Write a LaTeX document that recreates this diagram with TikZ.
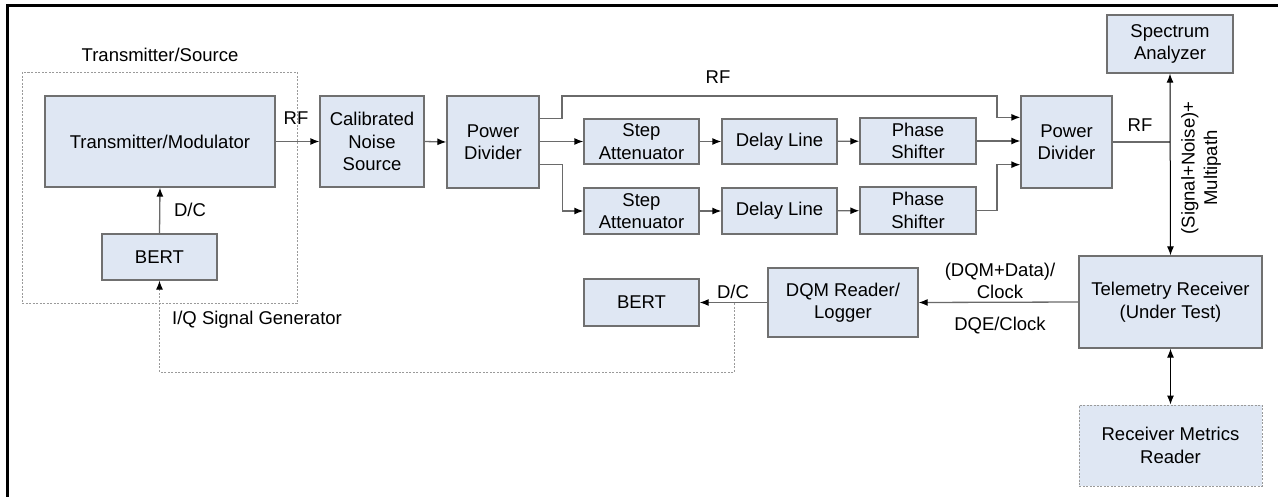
\documentclass[tikz,border=0pt]{standalone}
\usepackage{fontspec}
\setmainfont{Liberation Sans}
\usetikzlibrary{arrows.meta,calc}
\definecolor{boxfill}{HTML}{DFE7F3}
\definecolor{boxline}{HTML}{707070}
\definecolor{wire}{HTML}{6A6A6A}
\definecolor{dotline}{HTML}{9A9A9A}
\tikzset{
  blk/.style={draw=boxline, fill=boxfill, line width=1.3pt, rectangle, align=center, inner sep=0pt},
  dblk/.style={draw=dotline, fill=boxfill, line width=1pt, dash pattern=on 2pt off 1.5pt, rectangle, align=center, inner sep=0pt},
  conn/.style={draw=wire, line width=1.3pt, -{Latex[length=9pt,width=7pt,color=black]}},
  wireonly/.style={draw=wire, line width=1.3pt},
  dconn/.style={draw=dotline, line width=1pt, dash pattern=on 2pt off 1.5pt, -{Latex[length=9pt,width=7pt,color=black]}},
  bconn/.style={draw=black, line width=1pt, {Latex[length=9pt,width=7pt]}-{Latex[length=9pt,width=7pt]}},
  lbl/.style={align=center, inner sep=0pt},
}
\begin{document}
\begin{tikzpicture}[x=1pt,y=-1pt, font=\fontsize{18.5}{22.5}\selectfont]
\useasboundingbox (0,0) rectangle (1278,496);
% outer frame
\draw[line width=3pt, black] (7,500) -- (7,5) -- (1282,5);
% transmitter/source dotted group
\draw[draw=dotline, line width=1pt, dash pattern=on 2pt off 1.5pt] (22,72) rectangle (297,303);
\node[lbl] (tstitle) at (160,55) {Transmitter/Source};
% blocks
\node[blk, minimum width=230pt, minimum height=91pt] (tm) at (160,141.5) {Transmitter/Modulator};
\node[blk, minimum width=115pt, minimum height=46pt] (bert1) at (159.5,257) {BERT};
\node[blk, minimum width=104pt, minimum height=91pt] (cns) at (372,141.5) {Calibrated\\Noise\\Source};
\node[blk, minimum width=92pt, minimum height=92pt] (pd1) at (493,142) {Power\\Divider};
\node[blk, minimum width=115pt, minimum height=45pt] (sa1) at (641.5,141.5) {Step\\Attenuator};
\node[blk, minimum width=115pt, minimum height=46pt] (sa2) at (641.5,211) {Step\\Attenuator};
\node[blk, minimum width=115pt, minimum height=45pt] (dl1) at (779.5,141.5) {Delay Line};
\node[blk, minimum width=115pt, minimum height=46pt] (dl2) at (779.5,211) {Delay Line};
\node[blk, minimum width=116pt, minimum height=46pt] (ps1) at (918,141) {Phase\\Shifter};
\node[blk, minimum width=116pt, minimum height=47pt] (ps2) at (918,210.5) {Phase\\Shifter};
\node[blk, minimum width=91pt, minimum height=92pt] (pd2) at (1066.5,142) {Power\\Divider};
\node[blk, minimum width=126pt, minimum height=58pt] (spec) at (1170,44) {Spectrum\\Analyzer};
\node[blk, minimum width=183pt, minimum height=92pt] (tr) at (1170.5,302) {Telemetry Receiver\\(Under Test)};
\node[blk, minimum width=150pt, minimum height=69pt] (dqm) at (843,302.5) {DQM Reader/\\Logger};
\node[blk, minimum width=115pt, minimum height=47pt] (bert2) at (641.5,302.5) {BERT};
\node[dblk, minimum width=183pt, minimum height=81pt] (rmr) at (1170.5,445.5) {Receiver Metrics\\Reader};
% junctions
\coordinate (j1) at (562,96);
\coordinate (j2) at (997,96);
\coordinate (j3) at (997,210.5);
\coordinate (jrf) at (1170,142);
\coordinate (jdc) at (734,303);
\coordinate (jdot) at (734,372);
% connectors
\draw[conn] (bert1.north) -- (tm.south);
\draw[conn] (tm.east) -- (cns.west);
\draw[conn] (cns.east) -- (pd1.west);
\draw[conn] (pd1.east |- sa1.north) -| (j1) -- (j2) |- (pd2.west |- ps1.north);
\draw[conn] (pd1.east |- sa1.west) -- (sa1.west);
\draw[conn] (pd1.east |- sa1.south) -- ++(23,0) |- (sa2.west);
\draw[conn] (sa1) -- (dl1);
\draw[conn] (dl1) -- (ps1);
\draw[conn] (ps1.east) -- (pd2.west |- ps1.east);
\draw[conn] (sa2) -- (dl2);
\draw[conn] (dl2) -- (ps2);
\draw[conn] (ps2.east) -- (j3) |- (pd2.west |- ps1.south);
\draw[wireonly] (pd2.east) -- (jrf);
\draw[bconn] (spec.south) -- (tr.north);
\draw[conn] (tr.west) -- (dqm.east);
\draw[conn] (dqm.west) -- (bert2.east);
\draw[dconn] (jdc) -- (jdot) -| (bert1.south);
\draw[bconn] (tr.south) -- (rmr.north);
% labels
\node[lbl] (rf1) at (296,118) {RF};
\node[lbl] (rf2) at (718,77) {RF};
\node[lbl] (rf3) at (1140,125) {RF};
\node[lbl] (dc1) at (190,210) {D/C};
\node[lbl, anchor=west] (iq) at (172,320) {I/Q Signal Generator};
\node[lbl] (dc2) at (733,292) {D/C};
\node[lbl] (dqmdata) at (1000,281) {(DQM+Data)/\\Clock};
\node[lbl] (dqe) at (1000,326) {DQE/Clock};
\node[lbl, rotate=90] (snm) at (1201,168) {(Signal+Noise)+\\Multipath};
\end{tikzpicture}
\end{document}
